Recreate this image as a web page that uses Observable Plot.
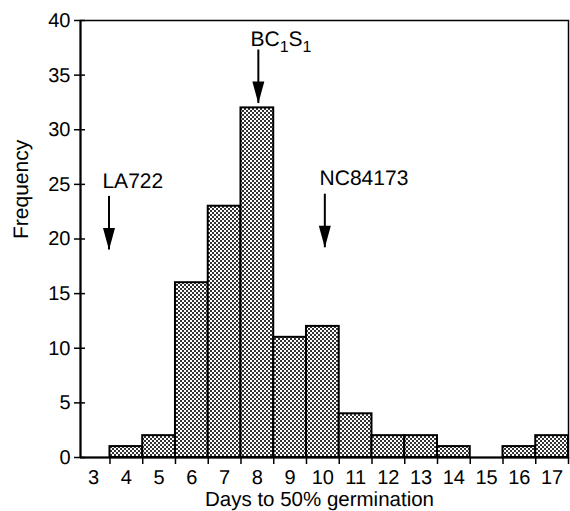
<!DOCTYPE html>
<html><head><meta charset="utf-8">
<script src="https://cdn.jsdelivr.net/npm/d3@7"></script>
<script src="https://cdn.jsdelivr.net/npm/@observablehq/plot@0.6"></script>
<style>body{margin:0;background:#fff} svg{display:block} text{text-rendering:geometricPrecision}</style>
</head><body><div id="chart"></div>
<script>
// Data
const days = [4, 5, 6, 7, 8, 9, 10, 11, 12, 13, 14, 15, 16, 17];
const freq = [1, 2, 16, 23, 32, 11, 12, 4, 2, 2, 1, 0, 1, 2];
const dayLabels = [3, 4, 5, 6, 7, 8, 9, 10, 11, 12, 13, 14, 15, 16, 17];
const binEdges = [3.5, 4.5, 5.5, 6.5, 7.5, 8.5, 9.5, 10.5, 11.5, 12.5, 13.5, 14.5, 15.5, 16.5, 17.5];
const yTicks = [0, 5, 10, 15, 20, 25, 30, 35, 40];
const markers = ["LA722", "BC1S1", "NC84173"];
const markerX = [3.47, 8.03, 10.06];
const arrowTop = [23.9, 37.3, 24.1];
const arrowTip = [19.0, 32.4, 19.2];
const labelX = [3.27, 7.79, 9.9];
const labelY = [24.7, 37.7, 24.95];
const xTitle = "Days to 50% germination";
const yTitle = "Frequency";

const bars = days.map((d, i) => ({day: d, n: freq[i]})).filter(d => d.n > 0);
const marks = markers.map((m, i) => ({name: m, x: markerX[i], top: arrowTop[i], tip: arrowTip[i], lx: labelX[i], ly: labelY[i]}));

const arrowHead = {
  draw(ctx, size) {
    const r = Math.sqrt(size / Math.PI);
    ctx.moveTo(-0.6 * r, -2.2 * r);
    ctx.lineTo(0.6 * r, -2.2 * r);
    ctx.lineTo(0, 0);
    ctx.closePath();
  }
};

const font = "'Liberation Sans', Arial, Helvetica, sans-serif";

const svg = Plot.plot({
  width: 570,
  height: 511,
  marginLeft: 80,
  marginRight: 2,
  marginTop: 20,
  marginBottom: 54,
  style: {fontFamily: font, fontSize: "20px", color: "black", background: "white"},
  x: {domain: [2.6, 17.5], type: "linear"},
  y: {domain: [0, 40]},
  marks: [
    Plot.rectY(bars, {x1: d => d.day - 0.5, x2: d => d.day + 0.5, y: "n", fill: "url(#checker)", stroke: "black", strokeWidth: 2}),
    Plot.frame({stroke: "black", strokeWidth: 1.5}),
    Plot.ruleY([0], {stroke: "black", strokeWidth: 2}),
    Plot.ruleX([2.6], {stroke: "black", strokeWidth: 2}),
    Plot.axisY({ticks: yTicks, tickSize: 6, tickPadding: 4, fontSize: 20, label: null, strokeWidth: 1.5}),
    Plot.axisY({ticks: yTicks, tickSize: -5, tickFormat: () => "", label: null, strokeWidth: 1.5}),
    Plot.axisX({ticks: binEdges, tickSize: 7, tickFormat: () => "", label: null, strokeWidth: 1.5}),
    Plot.axisX({ticks: dayLabels, tickSize: 0, tickPadding: 12, fontSize: 20, label: null}),
    Plot.text([xTitle], {frameAnchor: "bottom", dx: -5, dy: 42, fontSize: 20.5, lineAnchor: "middle", fill: "black"}),
    Plot.text([yTitle], {frameAnchor: "left", dx: -59, rotate: -90, fontSize: 21, fill: "black"}),
    Plot.ruleX(marks, {x: "x", y1: "top", y2: "tip", stroke: "black", strokeWidth: 2}),
    Plot.dot(marks, {x: "x", y: "tip", symbol: arrowHead, r: 10, fill: "black", stroke: null}),
    Plot.text(marks, {x: "lx", y: "ly", text: "name", textAnchor: "start", lineAnchor: "bottom", fontSize: 21, fill: "black"})
  ]
});

const ns = "http://www.w3.org/2000/svg";
const defs = document.createElementNS(ns, "defs");
defs.innerHTML = '<pattern id="checker" width="4" height="4" patternUnits="userSpaceOnUse"><rect width="4" height="4" fill="#fff"/><rect width="2" height="2" fill="#333"/><rect x="2" y="2" width="2" height="2" fill="#333"/></pattern>';
svg.insertBefore(defs, svg.firstChild);

// Subscripts for BC1S1 (pixel offsets for the baseline shift)
svg.querySelectorAll("text").forEach(t => {
  if (t.textContent === "BC1S1") {
    while (t.firstChild) t.removeChild(t.firstChild);
    const parts = [["BC", 0, null], ["1", 6, "16px"], ["S", 0, null], ["1", 6, "16px"]];
    let prev = 0;
    parts.forEach(([s, shift, fs]) => {
      const ts = document.createElementNS(ns, "tspan");
      ts.textContent = s;
      const dy = shift - prev;
      if (dy !== 0) ts.setAttribute("dy", dy);
      if (fs) ts.setAttribute("font-size", fs);
      prev = shift;
      t.appendChild(ts);
    });
  }
});

document.getElementById("chart").appendChild(svg);
</script>
</body></html>
